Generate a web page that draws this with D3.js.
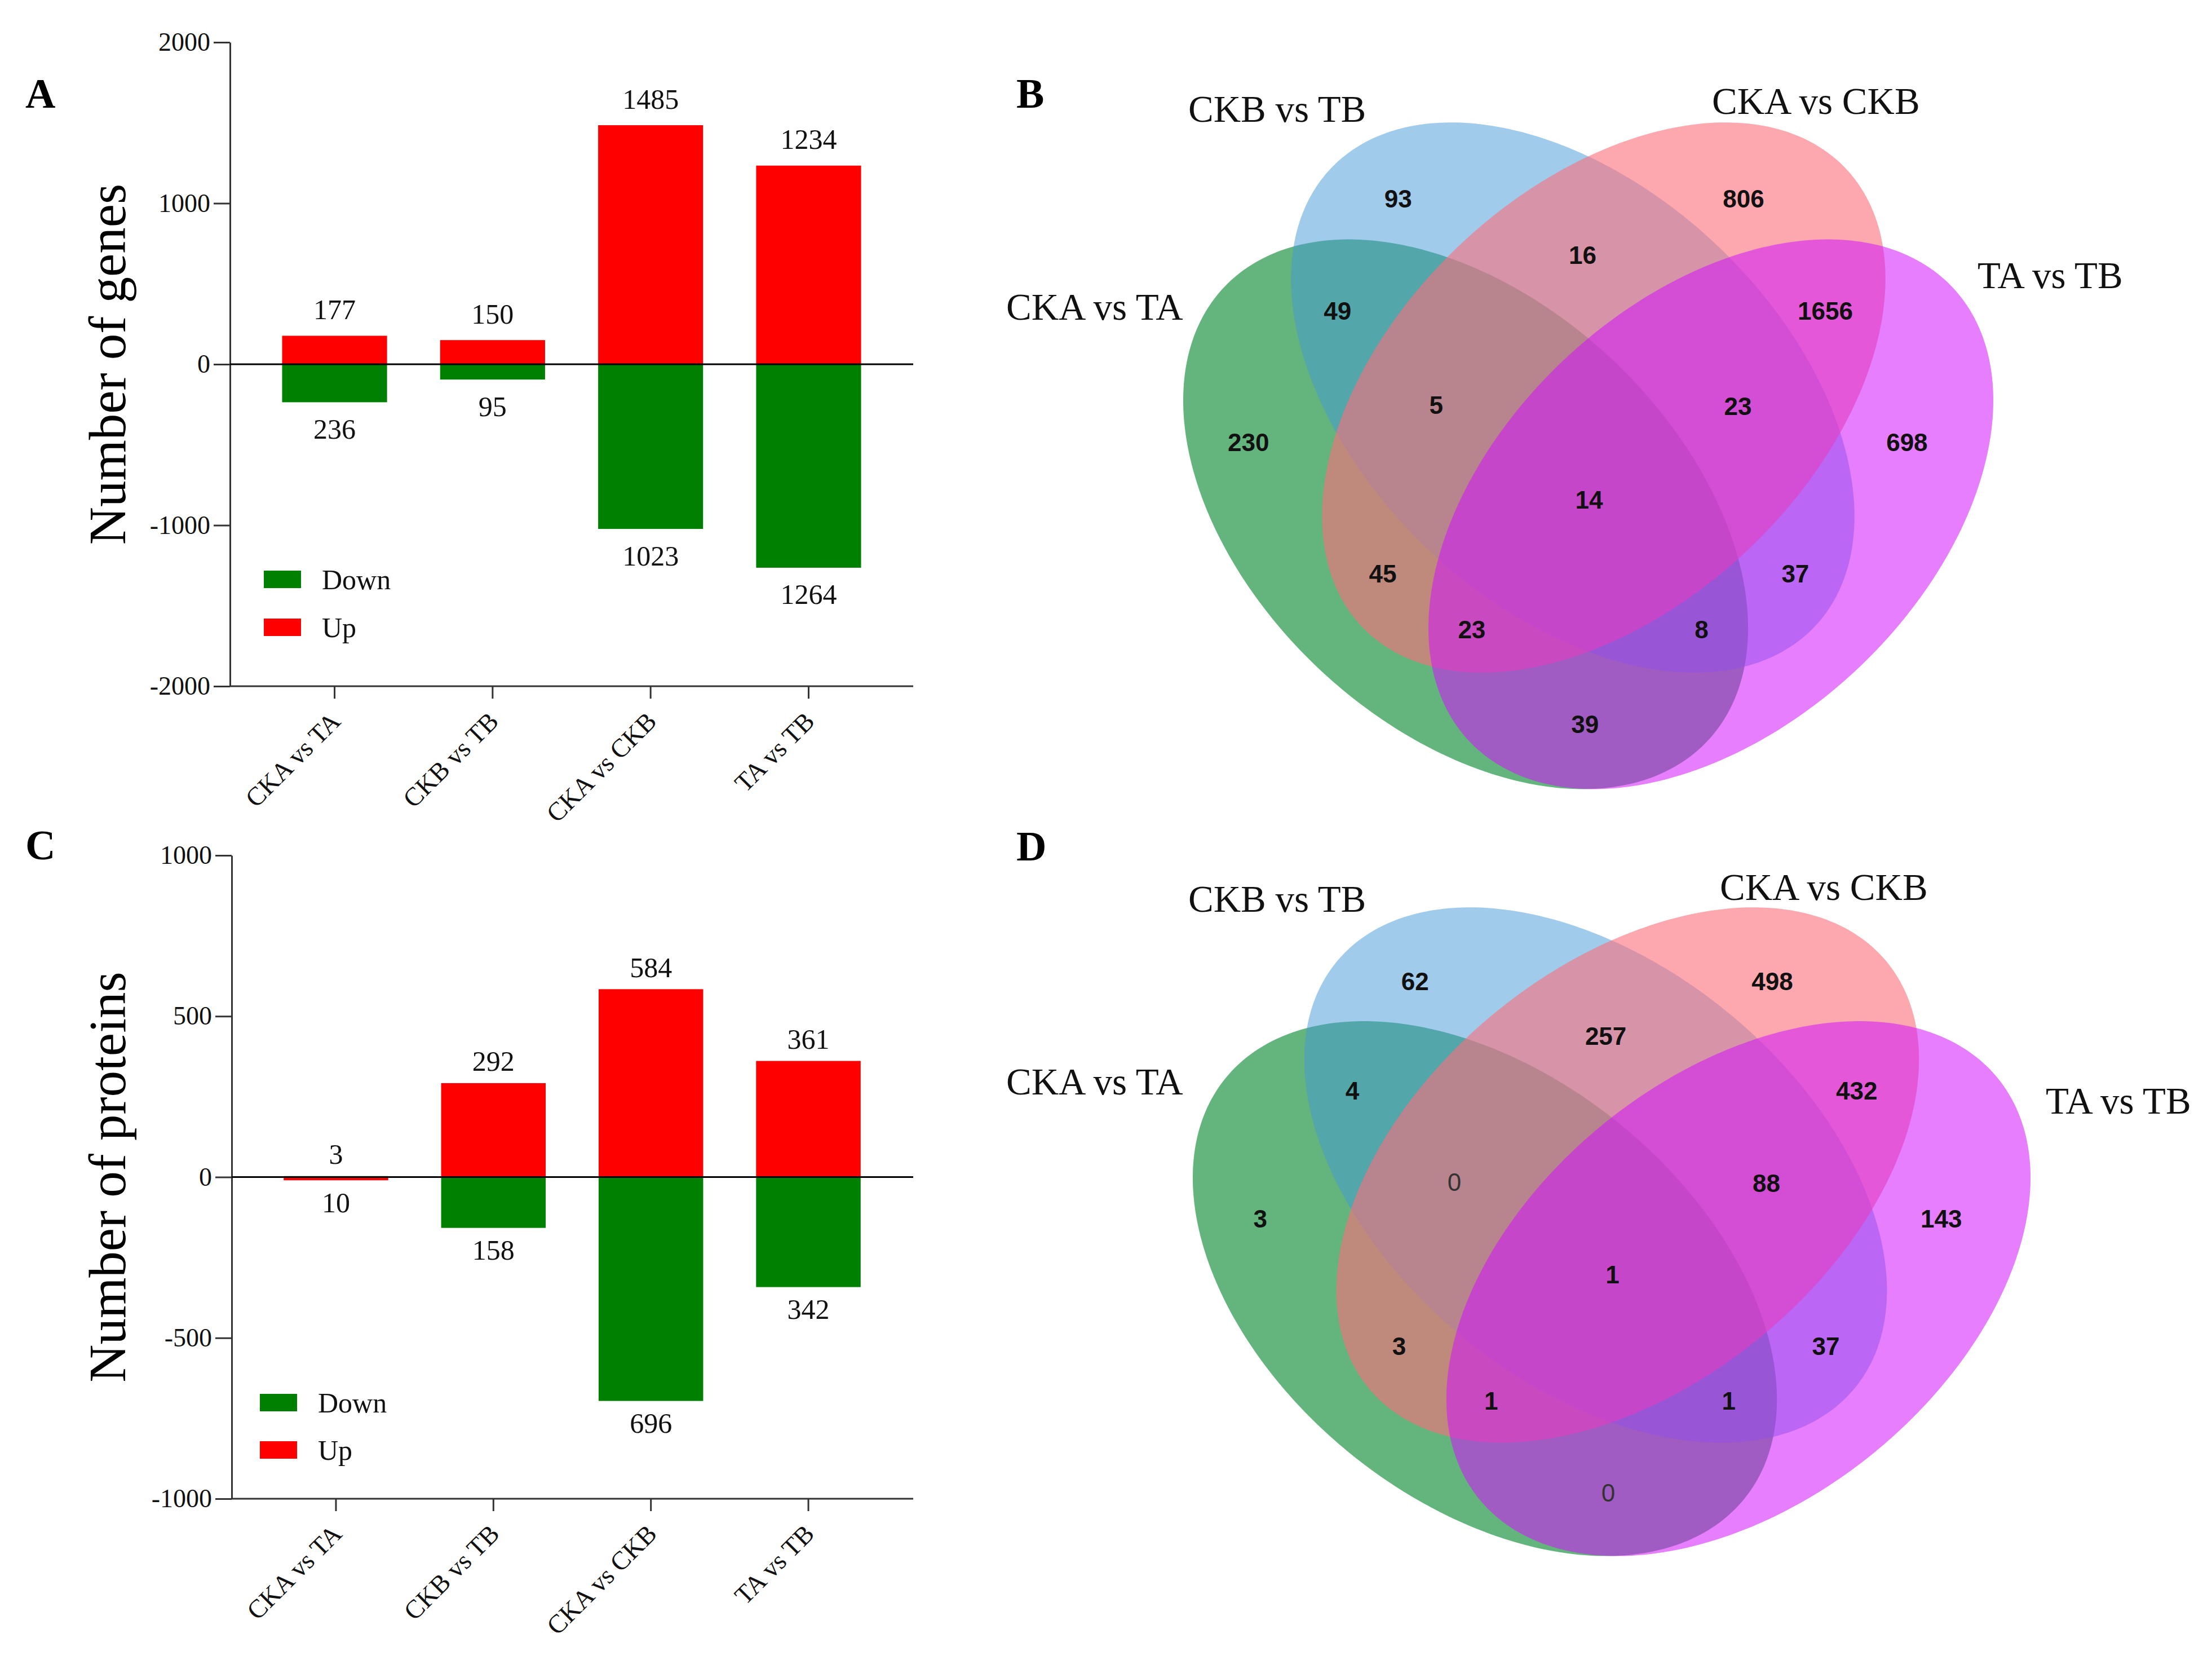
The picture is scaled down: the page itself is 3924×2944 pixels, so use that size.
<!DOCTYPE html>
<html><head><meta charset="utf-8">
<script src="https://cdn.jsdelivr.net/npm/d3@7"></script>
<style>html,body{margin:0;padding:0;background:#fff}</style>
</head><body>
<svg id="fig" width="3924" height="2944"></svg>
<script>
// ---------------- DATA ----------------
const categories = ["CKA vs TA", "CKB vs TB", "CKA vs CKB", "TA vs TB"];
const geneUp = [177, 150, 1485, 1234];
const geneDown = [236, 95, 1023, 1264];
const proteinUp = [3, 292, 584, 361];
const proteinDown = [10, 158, 696, 342];
const proteinColorSwap = [true, false, false, false]; // as drawn in the source figure
const geneTicks = [2000, 1000, 0, -1000, -2000];
const proteinTicks = [1000, 500, 0, -500, -1000];
const legendLabels = ["Down", "Up"];

const vennSets = ["CKA vs TA", "CKB vs TB", "CKA vs CKB", "TA vs TB"];
// region keys = indices of the sets that contain the region
const regionKeys = ["1", "2", "12", "01", "23", "0", "012", "123", "3", "0123", "02", "13", "023", "013", "03"];
const geneVenn = [93, 806, 16, 49, 1656, 230, 5, 23, 698, 14, 45, 37, 23, 8, 39];
const proteinVenn = [62, 498, 257, 4, 432, 3, 0, 88, 143, 1, 3, 37, 1, 1, 0];

// ---------------- LAYOUT / STYLE ----------------
const SERIF = "'Liberation Serif','Times New Roman',Times,serif";
const SANS = "'Liberation Sans',Arial,Helvetica,sans-serif";
const RED = "#ff0000", GREEN = "#008000";

const svg = d3.select("#fig");
svg.append("rect").attr("width", 3924).attr("height", 2944).attr("fill", "#fff");

function panelLetter(txt, x, y) {
  svg.append("text").attr("x", x).attr("y", y).text(txt)
    .attr("font-family", SERIF).attr("font-weight", "bold").attr("font-size", 74).attr("fill", "#000");
}

function barPanel(o) {
  const g = svg.append("g");
  const y = d3.scaleLinear().domain(o.domain).range([o.yBottom, o.yTop]);
  const x = d3.scaleBand().domain(categories).range(o.xRange).paddingInner(0.336).paddingOuter(0.168);

  // y axis
  const ya = g.append("g").attr("transform", `translate(${o.axisX},0)`)
    .call(d3.axisLeft(y).tickValues(o.ticks).tickSize(29).tickSizeOuter(0).tickPadding(6).tickFormat(d => String(d)));
  ya.attr("font-family", SERIF).attr("font-size", 46).attr("color", "#333");
  ya.selectAll("path,line").attr("stroke-width", 3);
  ya.selectAll("text").attr("fill", "#111");

  // x axis line + ticks
  g.append("line").attr("x1", o.axisX).attr("x2", o.xEnd).attr("y1", o.yBottom).attr("y2", o.yBottom)
    .attr("stroke", "#333").attr("stroke-width", 3);
  const xa = g.append("g").attr("transform", `translate(0,${o.yBottom})`)
    .call(d3.axisBottom(x).tickSize(22).tickSizeOuter(0));
  xa.select(".domain").remove();
  xa.attr("font-family", SERIF).attr("font-size", 46).attr("color", "#333");
  xa.selectAll("line").attr("stroke-width", 3);
  xa.selectAll("text").attr("x", 0).attr("y", 0).attr("dy", 0).attr("fill", "#111")
    .attr("text-anchor", "end").attr("transform", "translate(13,65) rotate(-45)");

  const rows = categories.map((c, i) => ({c, up: o.up[i], down: o.down[i], swap: o.swap ? o.swap[i] : false}));
  // bars
  g.selectAll(".up").data(rows).join("rect")
    .attr("x", d => x(d.c)).attr("width", x.bandwidth())
    .attr("y", d => y(d.up)).attr("height", d => y(0) - y(d.up))
    .attr("fill", d => d.swap ? GREEN : RED);
  g.selectAll(".down").data(rows).join("rect")
    .attr("x", d => x(d.c)).attr("width", x.bandwidth())
    .attr("y", y(0)).attr("height", d => y(-d.down) - y(0))
    .attr("fill", d => d.swap ? RED : GREEN);
  // zero line
  g.append("line").attr("x1", o.axisX).attr("x2", o.xEnd).attr("y1", y(0)).attr("y2", y(0))
    .attr("stroke", "#000").attr("stroke-width", 3);
  // value labels
  const lab = (sel) => sel.attr("font-family", SERIF).attr("font-size", 50).attr("text-anchor", "middle")
    .attr("dy", "0.35em").attr("fill", "#111");
  g.selectAll(".ul").data(rows).join("text").call(lab)
    .attr("x", d => x(d.c) + x.bandwidth() / 2).attr("y", d => y(d.up) - o.labOff).text(d => d.up);
  g.selectAll(".dl").data(rows).join("text").call(lab)
    .attr("x", d => x(d.c) + x.bandwidth() / 2).attr("y", d => y(-d.down) + o.labOff).text(d => d.down);

  // y label
  g.append("text").attr("transform", `translate(${o.yLabelX},${(o.yTop + o.yBottom) / 2}) rotate(-90)`)
    .attr("text-anchor", "middle").attr("font-family", SERIF).attr("font-size", 93).attr("fill", "#000")
    .text(o.yLabel);

  // legend
  const lg = g.append("g").attr("transform", `translate(${o.legX},${o.legY})`);
  [GREEN, RED].forEach((col, i) => {
    lg.append("rect").attr("x", 0).attr("y", i * o.legStep).attr("width", 66).attr("height", 31).attr("fill", col);
    lg.append("text").attr("x", 103).attr("y", i * o.legStep + 15.5).attr("dy", "0.35em")
      .attr("font-family", SERIF).attr("font-size", 50).attr("fill", "#111").text(legendLabels[i]);
  });
}

barPanel({
  up: geneUp, down: geneDown, ticks: geneTicks, domain: [-2000, 2000],
  axisX: 408, yTop: 75, yBottom: 1217, xRange: [453.4, 1574.6], xEnd: 1620,
  labOff: 47, yLabel: "Number of genes", yLabelX: 222, legX: 468, legY: 1012, legStep: 85
});
barPanel({
  up: proteinUp, down: proteinDown, swap: proteinColorSwap, ticks: proteinTicks, domain: [-1000, 1000],
  axisX: 411, yTop: 1517, yBottom: 2658, xRange: [456.3, 1573.7], xEnd: 1620,
  labOff: 39, yLabel: "Number of proteins", yLabelX: 222, legX: 461, legY: 2472, legStep: 84
});

// ---------------- VENN ----------------
const REF_W = 1435, REF_H = 1187;
const ellipses = [
  {cx: 500, cy: 694, a: 588, b: 378, angle: 43.1, color: "rgb(17,140,55)", alpha: 0.65},
  {cx: 690, cy: 487, a: 591, b: 372, angle: 43.4, color: "rgb(65,151,215)", alpha: 0.5},
  {cx: 745, cy: 487, a: 591, b: 372, angle: -43.4, color: "rgb(252,110,122)", alpha: 0.6},
  {cx: 935, cy: 694, a: 588, b: 378, angle: -43.1, color: "rgb(210,20,251)", alpha: 0.55}
];
const regionPos = {
  "1": [0.265, 0.113], "2": [0.692, 0.113], "12": [0.493, 0.197], "01": [0.190, 0.281],
  "23": [0.793, 0.281], "0": [0.080, 0.477], "012": [0.312, 0.421], "123": [0.685, 0.423],
  "3": [0.894, 0.477], "0123": [0.501, 0.563], "02": [0.246, 0.673], "13": [0.756, 0.673],
  "023": [0.356, 0.757], "013": [0.640, 0.757], "03": [0.496, 0.898]
};

function vennPanel(o) {
  const g = svg.append("g");
  const sx = d3.scaleLinear().domain([0, REF_W]).range([o.left, o.right]);
  const sy = d3.scaleLinear().domain([0, REF_H]).range([o.top, o.bottom]);
  const line = d3.line().x(p => sx(p[0])).y(p => sy(p[1])).curve(d3.curveLinearClosed);
  ellipses.forEach(e => {
    const th = e.angle * Math.PI / 180;
    const pts = d3.range(0, 360, 1).map(t => {
      const r = t * Math.PI / 180;
      return [e.cx + e.a * Math.cos(r) * Math.cos(th) - e.b * Math.sin(r) * Math.sin(th),
              e.cy + e.a * Math.cos(r) * Math.sin(th) + e.b * Math.sin(r) * Math.cos(th)];
    });
    g.append("path").attr("d", line(pts)).attr("fill", e.color).attr("fill-opacity", e.alpha);
  });
  const fx = d3.scaleLinear().domain([0, 1]).range([o.left, o.right]);
  const fy = d3.scaleLinear().domain([0, 1]).range([o.top, o.bottom]);
  g.selectAll(".v").data(regionKeys.map((k, i) => ({k, v: o.values[i]}))).join("text")
    .attr("x", d => fx(regionPos[d.k][0])).attr("y", d => fy(regionPos[d.k][1]))
    .attr("dy", "0.36em").attr("text-anchor", "middle").attr("font-family", SANS)
    .attr("font-size", 44).attr("font-weight", d => d.v === 0 ? "normal" : "bold")
    .attr("fill", d => d.v === 0 ? "#333" : "#111").text(d => d.v);
  vennSets.forEach((s, i) => {
    g.append("text").attr("x", o.setLab[i][0]).attr("y", o.setLab[i][1] + 22)
      .attr("font-family", SERIF).attr("font-size", 67).attr("fill", "#111").text(s);
  });
}

vennPanel({
  values: geneVenn, left: 2100, right: 3535, top: 218, bottom: 1405,
  setLab: [[1785, 545], [2108, 194], [3037, 180], [3508, 489]]
});
vennPanel({
  values: proteinVenn, left: 2117, right: 3601, top: 1610, bottom: 2765,
  setLab: [[1785, 1919], [2108, 1595], [3051, 1574], [3629, 1953]]
});

panelLetter("A", 45, 191);
panelLetter("B", 1803, 191);
panelLetter("C", 45, 1524);
panelLetter("D", 1803, 1526);
</script>
</body></html>
